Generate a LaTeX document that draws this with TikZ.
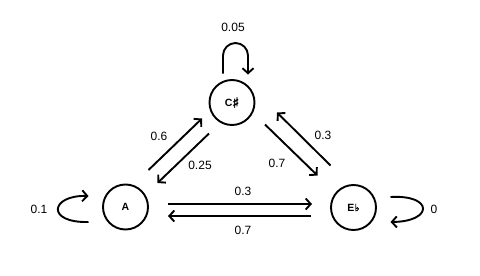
\documentclass[tikz,border=0pt]{standalone}
\usepackage{fontspec}
\setmainfont{Liberation Sans}
\newfontfamily\symfont[FakeBold=2.5]{DejaVu Sans}
\usetikzlibrary{arrows.meta,calc}
\begin{document}
\begin{tikzpicture}[x=1pt,y=-1pt,
  state/.style={circle,draw,line width=1.9pt,minimum size=45pt,inner sep=0pt,font=\fontsize{10.5}{12}\selectfont\bfseries},
  edge/.style={line width=1.9pt,-{Straight Barb[length=5pt,width=11pt,line width=1.9pt]}},
  lbl/.style={font=\fontsize{12}{14}\selectfont,inner sep=0pt}]
\useasboundingbox (0,0) rectangle (480,276);
\node[state] (C) at (232,102.5) {C\raisebox{-1.5pt}{\symfont\fontsize{14}{15}\selectfont ♯}};
\node[state] (A) at (125.5,207) {A};
\node[state] (E) at (353.5,207.5) {E\hspace{0.3pt}{\symfont\fontsize{10}{11}\selectfont ♭}};
% A <-> C
\draw[edge] ($(A)+(23,-37)$) -- ($(C)+(-30,16)$);
\draw[edge] ($(C)+(-23,31)$) -- ($(A)+(32,-24)$);
% C <-> E
\draw[edge] ($(C)+(33,22)$) -- ($(E)+(-36,-32)$);
\draw[edge] ($(E)+(-23,-42)$) -- ($(C)+(45,10)$);
% A <-> E
\draw[edge] ($(A)+(42.5,-3)$) -- ($(E)+(-41.5,-3.5)$);
\draw[edge] ($(E)+(-42.5,8.5)$) -- ($(A)+(42.5,9)$);
% self loops
\draw[edge] ($(C)+(-9,-29)$) -- ++(0,-18) arc(180:360:12.5) -- ++(0,19);
\draw[edge] ($(A)+(-37,15)$) .. controls ($(A)+(-80,16)$) and ($(A)+(-75,-12)$) .. ($(A)+(-37,-11)$);
\draw[edge] ($(E)+(37,-10.5)$) .. controls ($(E)+(80,-13)$) and ($(E)+(80,14)$) .. ($(E)+(37,14.5)$);
% labels
\node[lbl] (l1) at (233,27) {0.05};
\node[lbl] (l2) at (39,209) {0.1};
\node[lbl] (l3) at (434,209) {0};
\node[lbl] (l4) at (159,136) {0.6};
\node[lbl] (l5) at (200,165.5) {0.25};
\node[lbl] (l6) at (243,191.5) {0.3};
\node[lbl] (l7) at (243,230) {0.7};
\node[lbl] (l8) at (277,163.5) {0.7};
\node[lbl] (l9) at (323,135.5) {0.3};
\end{tikzpicture}
\end{document}
